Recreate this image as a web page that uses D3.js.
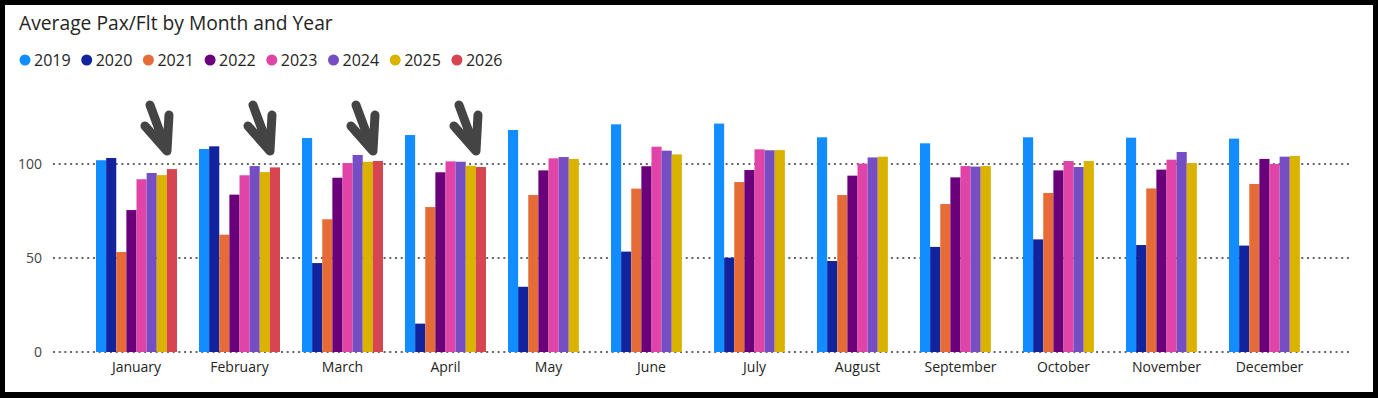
<!DOCTYPE html>
<html>
<head>
<meta charset="utf-8">
<script src="https://cdn.jsdelivr.net/npm/d3@7"></script>
<style>
  html, body { margin: 0; padding: 0; background: #000; }
  svg { display: block; }
  text { font-family: "Segoe UI", "Open Sans", sans-serif; }
</style>
</head>
<body>
<div id="chart"></div>
<script>
const months = ["January", "February", "March", "April", "May", "June",
  "July", "August", "September", "October", "November", "December"];
const years = ["2019", "2020", "2021", "2022", "2023", "2024", "2025", "2026"];
const colors = ["#118DFF", "#12239E", "#E66C37", "#6B007B", "#E044A7", "#744EC2", "#D9B300", "#D64550"];
const yTicks = [0, 50, 100];

const v2019 = [102, 108, 113.8, 115.4, 118.1, 121.1, 121.5, 114.2, 111, 114.2, 114, 113.5];
const v2020 = [103.2, 109.4, 47.3, 15.1, 34.7, 53.4, 50.2, 48.4, 55.9, 59.9, 56.9, 56.6];
const v2021 = [53.2, 62.4, 70.6, 77.1, 83.5, 86.9, 90.4, 83.5, 78.7, 84.6, 87, 89.4];
const v2022 = [75.5, 83.7, 92.7, 95.6, 96.6, 98.8, 96.8, 93.8, 92.9, 96.6, 97, 102.7];
const v2023 = [91.9, 94, 100.5, 101.4, 103, 109.2, 107.8, 100.2, 98.9, 101.6, 102.3, 100];
const v2024 = [95.2, 98.9, 104.8, 101.2, 103.7, 107.1, 107.3, 103.5, 98.6, 98.4, 106.4, 103.9];
const v2025 = [94.1, 95.7, 101.2, 99.1, 102.7, 105.1, 107.4, 103.9, 98.9, 101.6, 100.5, 104.3];
const v2026 = [97.3, 98.2, 101.6, 98.4, null, null, null, null, null, null, null, null];
const series = [v2019, v2020, v2021, v2022, v2023, v2024, v2025, v2026];

const W = 1378, H = 398;

const svg = d3.select("#chart").append("svg")
  .attr("width", W).attr("height", H);

// black frame with white card
svg.append("rect").attr("width", W).attr("height", H).attr("fill", "#000");
svg.append("rect").attr("x", 5).attr("y", 5)
  .attr("width", 1368).attr("height", 387).attr("fill", "#fff");

// title
const title = svg.append("text")
  .attr("x", 19).attr("y", 30)
  .attr("fill", "#252423")
  .attr("font-size", 20)
  .text("Average Pax/Flt by Month and Year");
const tw = title.node().getComputedTextLength();
title.attr("font-size", 20 * 314 / tw);

// legend
const legend = svg.append("g").selectAll("g")
  .data(years)
  .join("g")
    .attr("transform", (d, i) => "translate(" + (25 + i * 61.7) + ",60)");
legend.append("circle")
  .attr("r", 5.5)
  .attr("fill", (d, i) => colors[i]);
legend.append("text")
  .attr("x", 9).attr("dy", "0.36em")
  .attr("font-size", 16)
  .attr("fill", "#252423")
  .text(d => d);

// scales
const x0 = d3.scaleBand().domain(months)
  .range([85, 1321]).paddingInner(0.214).paddingOuter(0.107);
const x1 = d3.scaleBand().domain(years).range([0, x0.bandwidth()]);
const y = d3.scaleLinear().domain([0, 100]).range([352, 164]);

// gridlines
const grid = svg.append("g");
grid.selectAll("line")
  .data(yTicks)
  .join("line")
    .attr("x1", 53).attr("x2", 1350)
    .attr("y1", d => y(d)).attr("y2", d => y(d))
    .attr("stroke", "#666")
    .attr("stroke-width", 2)
    .attr("stroke-dasharray", "2 3.7");

// y axis labels
svg.append("g").selectAll("text")
  .data(yTicks)
  .join("text")
    .attr("x", 42).attr("y", d => y(d))
    .attr("dy", "0.36em")
    .attr("text-anchor", "end")
    .attr("font-size", 14)
    .attr("fill", "#444")
    .text(d => d);

// bars
const groups = svg.append("g").selectAll("g")
  .data(months)
  .join("g")
    .attr("transform", d => "translate(" + x0(d) + ",0)");
groups.selectAll("rect")
  .data((m, mi) => years.map((yr, yi) => ({ yr, yi, v: series[yi][mi] })).filter(d => d.v != null))
  .join("rect")
    .attr("x", d => x1(d.yr))
    .attr("y", d => y(d.v))
    .attr("width", x1.bandwidth())
    .attr("height", d => y(0) - y(d.v))
    .attr("fill", d => colors[d.yi]);

// x axis labels
svg.append("g").selectAll("text")
  .data(months)
  .join("text")
    .attr("x", d => x0(d) + x0.bandwidth() / 2)
    .attr("y", 372)
    .attr("text-anchor", "middle")
    .attr("font-size", 14)
    .attr("fill", "#252423")
    .text(d => d);

// hand-drawn arrows over the months that have 2026 data
const arrowMonths = months.filter((m, i) => v2026[i] != null);
const arrow = svg.append("g").selectAll("path")
  .data(arrowMonths)
  .join("path")
    .attr("transform", d => "translate(" + (x0(d) + x0.bandwidth() - 10) + ",151)")
    .attr("d", "M-17,-46 L0,0 M-22,-25 L0,0 L2,-36")
    .attr("fill", "none")
    .attr("stroke", "#444")
    .attr("stroke-width", 9)
    .attr("stroke-linecap", "round")
    .attr("stroke-linejoin", "round");
</script>
</body>
</html>
